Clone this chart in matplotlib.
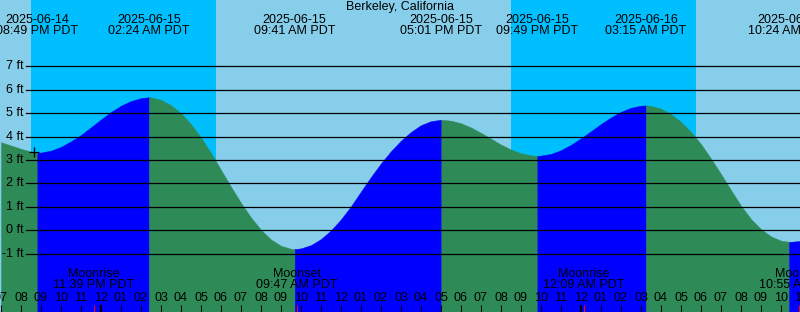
import numpy as np
import pandas as pd
import matplotlib
matplotlib.use('Agg')
import matplotlib.pyplot as plt

plt.rcParams['font.family'] = ['Liberation Sans', 'DejaVu Sans']

station = 'Berkeley, California'
origin = pd.Timestamp('2025-06-15 00:00')
view_start = '2025-06-14 18:57'
view_end = '2025-06-16 10:57'

# tide height every half hour (ft)
sample_times = pd.date_range('2025-06-14 19:00', '2025-06-16 11:00', freq='30min')
sample_heights = [
    3.76, 3.62, 3.48, 3.36, 3.32, 3.40, 3.56, 3.80, 4.07, 4.40,
    4.73, 5.05, 5.32, 5.52, 5.64, 5.67, 5.57, 5.34, 5.00, 4.53,
    3.96, 3.30, 2.58, 1.86, 1.17, 0.55, 0.02, -0.39, -0.66, -0.79,
    -0.77, -0.63, -0.37, 0.00, 0.47, 1.03, 1.66, 2.28, 2.86, 3.38,
    3.83, 4.20, 4.49, 4.66, 4.72, 4.68, 4.57, 4.39, 4.16, 3.91,
    3.66, 3.45, 3.29, 3.20, 3.19, 3.26, 3.42, 3.65, 3.93, 4.23,
    4.54, 4.82, 5.06, 5.23, 5.32, 5.31, 5.19, 4.96, 4.63, 4.20,
    3.68, 3.06, 2.40, 1.72, 1.05, 0.48, 0.05, -0.26, -0.44, -0.49,
    -0.45,
]

event_times = ['2025-06-14 20:49', '2025-06-15 02:24', '2025-06-15 09:41',
               '2025-06-15 17:01', '2025-06-15 21:49', '2025-06-16 03:15',
               '2025-06-16 10:24']
event_heights = [3.31, 5.68, -0.80, 4.72, 3.18, 5.33, -0.49]
event_kinds = ['low', 'high', 'low', 'high', 'low', 'high', 'low']

sunset_times = ['2025-06-14 20:30', '2025-06-15 20:30']
sunrise_times = ['2025-06-15 05:45', '2025-06-16 05:45']

moon_times = ['2025-06-14 23:39', '2025-06-15 09:47', '2025-06-16 00:09', '2025-06-16 10:55']
moon_events = ['Moonrise', 'Moonset', 'Moonrise', 'Moonset']

mark_time = '2025-06-14 20:40'
mark_height = 3.34

height_ticks = [-1, 0, 1, 2, 3, 4, 5, 6, 7]

day_color = '#87CEEB'
night_color = '#00BFFF'
rising_color = '#0000FF'
falling_color = '#2E8B57'

W, H = 800, 312


def hrs(t):
    return (pd.Timestamp(t) - origin) / pd.Timedelta(hours=1)


def top(px):
    # pixel row from top -> axes fraction
    return 1 - px / H


fig = plt.figure(figsize=(W / 100, H / 100), dpi=100, facecolor=day_color)
ax = fig.add_axes([0, 0, 1, 1])
ax.set_axis_off()
x0, x1 = hrs(view_start), hrs(view_end)
y_lo, y_hi = -3.487, 9.829
ax.set_xlim(x0, x1)
ax.set_ylim(y_lo, y_hi)

# night shading
for s, r in zip(sunset_times, sunrise_times):
    ax.axvspan(hrs(s), hrs(r), color=night_color, lw=0, zorder=0)

# tide curve, coloured by rising / falling
t_all = np.concatenate([[hrs(t) for t in sample_times], [hrs(t) for t in event_times]])
h_all = np.concatenate([sample_heights, event_heights])
order = np.argsort(t_all)
t_all, h_all = t_all[order], h_all[order]

bounds = [t_all[0]] + [hrs(t) for t in event_times] + [t_all[-1]]
kinds = event_kinds + ['high' if event_kinds[-1] == 'low' else 'low']
for a, b, kind in zip(bounds[:-1], bounds[1:], kinds):
    m = (t_all >= a) & (t_all <= b)
    c = rising_color if kind == 'high' else falling_color
    ax.fill_between(t_all[m], h_all[m], y_lo, color=c, lw=0.3, edgecolor=c, zorder=1)

# height grid
for v in height_ticks:
    ax.axhline(v, xmin=26 / W, color='black', lw=0.9, zorder=2)
    ax.text(24 / W, v, f'{v} ft', transform=ax.get_yaxis_transform(),
            ha='right', va='center', fontsize=9, zorder=3)

xt = ax.get_xaxis_transform()

# title and tide event labels
ax.text(0.5, top(7.3), station, transform=ax.transAxes, ha='center', va='center', fontsize=9)
for t in event_times:
    ts = pd.Timestamp(t)
    ax.text(hrs(t), top(19.7), ts.strftime('%Y-%m-%d'), transform=xt,
            ha='center', va='center', fontsize=9)
    ax.text(hrs(t), top(31.3), ts.strftime('%I:%M %p PDT'), transform=xt,
            ha='center', va='center', fontsize=9)

# moon labels
for t, name in zip(moon_times, moon_events):
    ts = pd.Timestamp(t)
    ax.text(hrs(t), top(274), name, transform=xt, ha='center', va='center', fontsize=9, zorder=4)
    ax.text(hrs(t), top(285.3), ts.strftime('%I:%M %p PDT'), transform=xt,
            ha='center', va='center', fontsize=9, zorder=4)

# hour ticks and labels
hours = pd.date_range('2025-06-14 19:00', '2025-06-16 11:00', freq='1h')
for ts in hours:
    hx = hrs(ts)
    ax.text(hx, top(298), ts.strftime('%I'), transform=xt, ha='center', va='center',
            fontsize=9, zorder=4)
    lw = 1.6 if ts.hour == 0 else 0.75
    ax.vlines(hx, 0, 7.5 / H, transform=xt, colors='black', lw=lw, zorder=4)
for t in moon_times:
    ax.vlines(hrs(t), 0, 7.5 / H, transform=xt, colors='red', lw=0.75, zorder=5)

ax.plot(hrs(mark_time), mark_height, marker='+', color='black', ms=7, mew=0.9, zorder=5)

fig.savefig('out.png', dpi=100, facecolor=day_color)
